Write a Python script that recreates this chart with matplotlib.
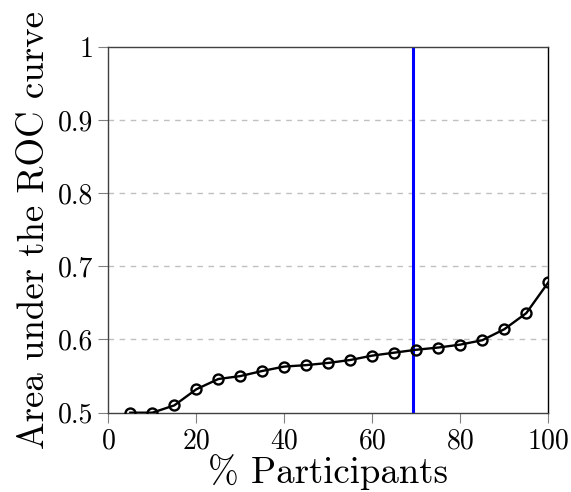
import matplotlib
matplotlib.use('Agg')
import matplotlib.pyplot as plt

participants = [5, 10, 15, 20, 25, 30, 35, 40, 45, 50,
                55, 60, 65, 70, 75, 80, 85, 90, 95, 100]
auc = [0.500, 0.500, 0.510, 0.532, 0.546, 0.550, 0.557, 0.563, 0.565, 0.568,
       0.572, 0.578, 0.582, 0.586, 0.589, 0.593, 0.599, 0.614, 0.636, 0.678]
cutoff = 69.3

xticks = [0, 20, 40, 60, 80, 100]
yticks = [0.5, 0.6, 0.7, 0.8, 0.9, 1.0]
ytick_labels = ['0.5', '0.6', '0.7', '0.8', '0.9', '1']

plt.rcParams['font.family'] = 'cmr10'
plt.rcParams['axes.formatter.use_mathtext'] = True

fig = plt.figure(figsize=(5.71, 4.92), dpi=100)
ax = fig.add_axes([0.1897, 0.1612, 0.7705, 0.7439])

for y in yticks[1:-1]:
    ax.axhline(y, color='#c0c0c0', lw=1.0, ls=(0, (4, 4)), zorder=0)

ax.plot(participants, auc, color='black', lw=1.7, marker='o', ms=7.2,
        mfc='none', mec='black', mew=1.7, zorder=3)
ax.axvline(cutoff, color='blue', lw=2.2, zorder=2)

ax.set_xlim(0, 100)
ax.set_ylim(0.5, 1.0)
ax.set_xticks(xticks)
ax.set_xticklabels([str(t) for t in xticks])
ax.set_yticks(yticks)
ax.set_yticklabels(ytick_labels)
ax.tick_params(direction='out', length=7, width=0.8, color='#808080',
               labelsize=20, pad=4)
for s in ax.spines.values():
    s.set_linewidth(1.0)
    s.set_color('#404040')
ax.spines['right'].set_color('black')

ax.set_xlabel('% Participants', fontsize=26.5, labelpad=0)
ax.set_ylabel('Area under the ROC curve', fontsize=26.5, labelpad=5)

fig.savefig('out.png', dpi=100)
